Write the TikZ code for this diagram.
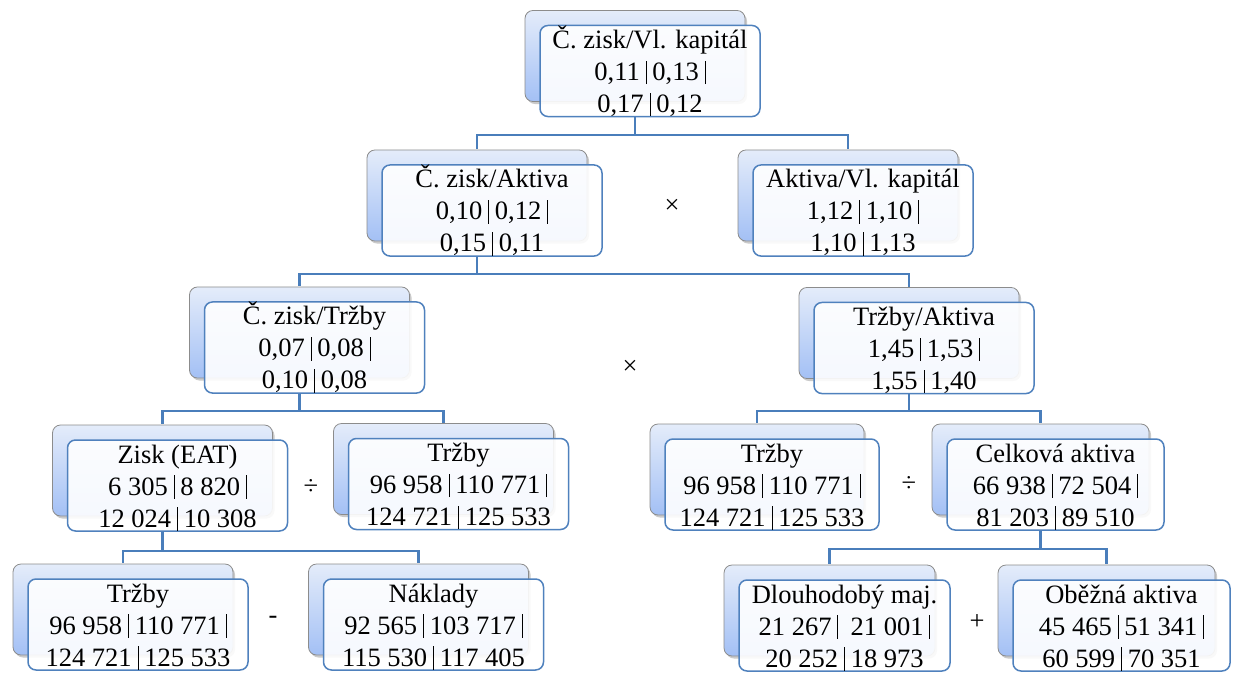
\documentclass[tikz,border=0pt]{standalone}
\usepackage{fontspec}
\setmainfont{Liberation Serif}
\usetikzlibrary{shadows}
\definecolor{linkblue}{HTML}{4A7EBB}
\definecolor{boxblue}{HTML}{4F81BD}
\definecolor{backtop}{HTML}{E4ECFA}
\definecolor{backbot}{HTML}{A3C0F5}
\definecolor{backedge}{HTML}{8C8C8C}
\newcommand{\sepbar}{\hspace{0.22em}\vrule height 0.75em depth 0.14em width 0.9pt\hspace{0.22em}}
\newcommand{\boxtext}[3]{\rule{0pt}{23pt}#1\\#2\\#3\rule[-4pt]{0pt}{4pt}}

\begin{document}
\begin{tikzpicture}[x=1pt, y=-1pt,
  card/.style={rectangle, rounded corners=8pt, draw=boxblue, line width=1.5pt,
    fill=white, fill opacity=0.9, text opacity=1, text=black,
    minimum width=220pt, minimum height=91pt, inner sep=0pt, align=center,
    font=\fontsize{26.5pt}{32pt}\selectfont,
    drop shadow={shadow xshift=-13pt, shadow yshift=12.5pt, opacity=0.35,
      fill=black!60},
    copy shadow={shadow xshift=-15pt, shadow yshift=15pt, draw=backedge,
      line width=0.8pt, fill opacity=1, top color=backtop, bottom color=backbot}},
  op/.style={font=\fontsize{26.5pt}{32pt}\selectfont},
  link/.style={draw=linkblue, line width=2.2pt}
]
  \useasboundingbox (0,0) rectangle (1234,672);

  % ratio tree
  \node[card] (roe) at (650,71)
    {\boxtext{Č. zisk/Vl. kapitál}{0,11\sepbar 0,13\sepbar}{0,17\sepbar 0,12}};
  \node[card] (roa) at (492,210.5)
    {\boxtext{Č. zisk/Aktiva}{0,10\sepbar 0,12\sepbar}{0,15\sepbar 0,11}};
  \node[card] (ak) at (863,210.5)
    {\boxtext{Aktiva/Vl. kapitál}{1,12\sepbar 1,10\sepbar}{1,10\sepbar 1,13}};
  \node[card] (ros) at (314.5,347.5)
    {\boxtext{Č. zisk/Tržby}{0,07\sepbar 0,08\sepbar}{0,10\sepbar 0,08}};
  \node[card] (ta) at (924,348)
    {\boxtext{Tržby/Aktiva}{1,45\sepbar 1,53\sepbar}{1,55\sepbar 1,40}};

  % absolute values
  \node[card] (eat) at (177.5,485.5)
    {\boxtext{Zisk (EAT)}{6 305\sepbar 8 820\sepbar}{12 024\sepbar 10 308}};
  \node[card] (trz1) at (458.5,484)
    {\boxtext{Tržby}{96 958\sepbar 110 771\sepbar}{124 721\sepbar 125 533}};
  \node[card, minimum width=214pt] (trz2) at (772,484.5)
    {\boxtext{Tržby}{96 958\sepbar 110 771\sepbar}{124 721\sepbar 125 533}};
  \node[card, minimum width=217pt] (ca) at (1055.5,484.5)
    {\boxtext{Celková aktiva}{66 938\sepbar 72 504\sepbar}{81 203\sepbar 89 510}};
  \node[card] (trz3) at (138,624.5)
    {\boxtext{Tržby}{96 958\sepbar 110 771\sepbar}{124 721\sepbar 125 533}};
  \node[card] (nak) at (433.5,624.5)
    {\boxtext{Náklady}{92 565\sepbar 103 717\sepbar}{115 530\sepbar 117 405}};
  \node[card, minimum width=211pt] (dm) at (844.5,625.5)
    {\boxtext{Dlouhodobý maj.}{21 267\sepbar\ 21 001\sepbar}{20 252\sepbar 18 973}};
  \node[card, minimum width=217pt] (oa) at (1121.5,625.5)
    {\boxtext{Oběžná aktiva}{45 465\sepbar 51 341\sepbar}{60 599\sepbar 70 351}};

  % operators
  \node[op] (mul1) at (672,206) {×};
  \node[op] (mul2) at (630,367) {×};
  \node[op] (div1) at (311,487) {÷};
  \node[op] (div2) at (909,484) {÷};
  \node[op] (minus) at (273,620) {-};
  \node[op] (plus) at (977,622) {+};

  % connectors
  \draw[link] ([xshift=-15pt]roe.south) -- ++(0,18) -| ([xshift=-15pt,yshift=15pt]roa.north);
  \draw[link] ([xshift=-15pt]roe.south) -- ++(0,18) -| ([xshift=-15pt,yshift=15pt]ak.north);
  \draw[link] ([xshift=-15pt]roa.south) -- ++(0,17) -| ([xshift=-15pt,yshift=15pt]ros.north);
  \draw[link] ([xshift=-15pt]roa.south) -- ++(0,17) -| ([xshift=-15pt,yshift=15pt]ta.north);
  \draw[link] ([xshift=-15pt]ros.south) -- ++(0,17) -| ([xshift=-15pt,yshift=15pt]eat.north);
  \draw[link] ([xshift=-15pt]ros.south) -- ++(0,17) -| ([xshift=-15pt,yshift=15pt]trz1.north);
  \draw[link] ([xshift=-15pt]ta.south) -- ++(0,17) -| ([xshift=-15pt,yshift=15pt]trz2.north);
  \draw[link] ([xshift=-15pt]ta.south) -- ++(0,17) -| ([xshift=-15pt,yshift=15pt]ca.north);
  \draw[link] ([xshift=-15pt]eat.south) -- ++(0,19) -| ([xshift=-15pt,yshift=15pt]trz3.north);
  \draw[link] ([xshift=-15pt]eat.south) -- ++(0,19) -| ([xshift=-15pt,yshift=15pt]nak.north);
  \draw[link] ([xshift=-15pt]ca.south) -- ++(0,18) -| ([xshift=-15pt,yshift=15pt]dm.north);
  \draw[link] ([xshift=-15pt]ca.south) -- ++(0,18) -| ([xshift=-15pt,yshift=15pt]oa.north);
\end{tikzpicture}
\end{document}
